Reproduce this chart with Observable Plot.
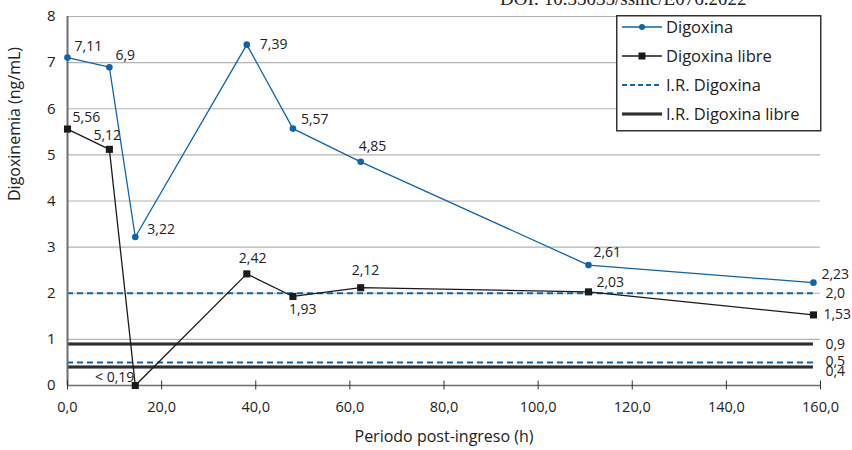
<!DOCTYPE html>
<html><head><meta charset="utf-8">
<script src="https://cdn.jsdelivr.net/npm/d3@7"></script>
<script src="https://cdn.jsdelivr.net/npm/@observablehq/plot@0.6"></script>
<style>
body{margin:0;background:#fff;font-family:"Open Sans",sans-serif}
#wrap{position:relative;width:852px;height:450px;overflow:hidden}
#doi{position:absolute;left:500px;top:-12px;white-space:nowrap;font-family:"Liberation Serif",serif;font-size:19px;color:#222}
#legend{position:absolute;left:616px;top:15px}
</style></head>
<body>
<div id="wrap"><div id="doi">DOI: 10.35035/ssmc/E076.2022</div><div id="chart"></div><div id="legend"></div></div>
<script>
// ---- data ----
const xHours = [0, 8.9, 14.4, 38.1, 47.9, 62.3, 110.7, 158.5];
const digoxina = [7.11, 6.9, 3.22, 7.39, 5.57, 4.85, 2.61, 2.23];
const digoxinaLabels = ["7,11", "6,9", "3,22", "7,39", "5,57", "4,85", "2,61", "2,23"];
const digoxinaLibre = [5.56, 5.12, 0, 2.42, 1.93, 2.12, 2.03, 1.53];
const libreLabels = ["5,56", "5,12", "< 0,19", "2,42", "1,93", "2,12", "2,03", "1,53"];
const refDigoxina = [2.0, 0.5];
const refDigoxinaLabels = ["2,0", "0,5"];
const refLibre = [0.9, 0.4];
const refLibreLabels = ["0,9", "0,4"];
const xTicks = [0, 20, 40, 60, 80, 100, 120, 140, 160];
const yTicks = [0, 1, 2, 3, 4, 5, 6, 7, 8];
const seriesNames = ["Digoxina", "Digoxina libre", "I.R. Digoxina", "I.R. Digoxina libre"];
const xTitle = "Periodo post-ingreso (h)";
const yTitle = "Digoxinemia (ng/mL)";

// ---- styles / label placement ----
const BLUE = "#0b64ad", BLACK = "#1a1a1a", GRID = "#b4b4b4", AXIS = "#6e6e6e";
const blueOff = [[7,-11,"start"],[6,-12,"start"],[12,-7,"start"],[13,0,"start"],[8,-9,"start"],[-2,-15,"start"],[5,-13,"start"],[8,-8,"start"]];
const blackOff = [[5,-12,"start"],[-16,-14,"start"],[-1,-8,"end"],[-8,-15,"start"],[-4,13,"start"],[-9,-17,"start"],[8,-9,"start"],[10,0,"start"]];
const refDigOff = [0, -1], refLibOff = [1, 4];

const pts = xHours.map((x, i) => ({x, dig: digoxina[i], lib: digoxinaLibre[i], dl: digoxinaLabels[i], ll: libreLabels[i]}));
const xEnd = xHours[xHours.length - 1], xStart = xHours[0];
const refD = refDigoxina.map((y, i) => ({y, t: refDigoxinaLabels[i], o: refDigOff[i]}));
const refL = refLibre.map((y, i) => ({y, t: refLibreLabels[i], o: refLibOff[i]}));
const fmt = d => d.toFixed(1).replace(".", ",");

const marks = [
  Plot.gridY(yTicks.slice(1), {stroke: GRID, strokeOpacity: 1, strokeWidth: 1.2}),
  Plot.ruleY(refL, {y: "y", x1: () => xStart, x2: () => xEnd, stroke: "#151515", strokeWidth: 3}),
  Plot.ruleY(refL, {y: "y", x1: () => xStart, x2: () => xEnd, stroke: "#707070", strokeWidth: 0.6}),
  Plot.ruleY(refD, {y: "y", x1: () => xStart, x2: () => xEnd, stroke: BLUE, strokeWidth: 2, strokeDasharray: "6,4"}),
  Plot.ruleX([xStart], {stroke: AXIS, strokeWidth: 2}),
  Plot.ruleY([0], {stroke: AXIS, strokeWidth: 1.5}),
  Plot.axisX(xTicks, {tickSize: 9, dy: -4.5, tickFormat: () => "", stroke: "#333", label: null}),
  Plot.line(pts, {x: "x", y: "dig", stroke: BLUE, strokeWidth: 1.3}),
  Plot.line(pts, {x: "x", y: "lib", stroke: BLACK, strokeWidth: 1.3}),
  Plot.dot(pts, {x: "x", y: "dig", r: 3.3, fill: BLUE}),
  Plot.dot(pts, {x: "x", y: "lib", symbol: "square", r: 4, fill: BLACK}),
  ...blueOff.map((o, i) => Plot.text([pts[i]], {x: "x", y: "dig", text: "dl", dx: o[0], dy: o[1], textAnchor: o[2], fontSize: 14, fill: "#222"})),
  ...blackOff.map((o, i) => Plot.text([pts[i]], {x: "x", y: "lib", text: "ll", dx: o[0], dy: o[1], textAnchor: o[2], fontSize: 14, fill: "#222"})),
  ...refD.map(r => Plot.text([r], {x: () => xEnd, y: "y", text: "t", dx: 12, dy: r.o, textAnchor: "start", fontSize: 14, fill: "#222"})),
  ...refL.map(r => Plot.text([r], {x: () => xEnd, y: "y", text: "t", dx: 12, dy: r.o, textAnchor: "start", fontSize: 14, fill: "#222"})),
  Plot.axisY(yTicks, {tickSize: 0, tickPadding: 12, fontSize: 15, label: null}),
  Plot.axisX(xTicks, {tickSize: 0, tickPadding: 16, fontSize: 14.5, tickFormat: fmt, label: null}),
  Plot.text([yTitle], {frameAnchor: "left", rotate: -90, dx: -53, fontSize: 16, fill: "#222"}),
  Plot.text([xTitle], {frameAnchor: "bottom", dy: 56, fontSize: 16, fill: "#222"})
];

const chart = Plot.plot({
  width: 852, height: 450,
  marginLeft: 67, marginRight: 32, marginTop: 16, marginBottom: 65,
  x: {domain: [0, 160]},
  y: {domain: [0, 8]},
  style: {fontFamily: "'Open Sans', sans-serif", fontSize: "15px", color: "#222", background: "transparent"},
  marks
});
document.getElementById("chart").appendChild(chart);

// ---- legend ----
const lg = d3.select("#legend").append("svg").attr("width", 206).attr("height", 117)
  .style("font-family", "'Open Sans', sans-serif");
lg.append("rect").attr("x", 0.75).attr("y", 0.75).attr("width", 204).attr("height", 115).attr("fill", "#fff").attr("stroke", "#333").attr("stroke-width", 1.5);
const rowY = [12, 41, 70, 99];
seriesNames.forEach((name, i) => {
  const g = lg.append("g").attr("transform", `translate(0,${rowY[i]})`);
  if (i === 0) {
    g.append("line").attr("x1", 6).attr("x2", 46).attr("stroke", BLUE).attr("stroke-width", 1.5);
    g.append("circle").attr("cx", 26).attr("r", 3).attr("fill", BLUE);
  } else if (i === 1) {
    g.append("line").attr("x1", 6).attr("x2", 46).attr("stroke", BLACK).attr("stroke-width", 1.5);
    g.append("rect").attr("x", 22.5).attr("y", -3.5).attr("width", 7).attr("height", 7).attr("fill", BLACK);
  } else if (i === 2) {
    g.append("line").attr("x1", 6).attr("x2", 46).attr("stroke", BLUE).attr("stroke-width", 2).attr("stroke-dasharray", "5,3");
  } else {
    g.append("line").attr("x1", 6).attr("x2", 46).attr("stroke", "#151515").attr("stroke-width", 3);
    g.append("line").attr("x1", 6).attr("x2", 46).attr("stroke", "#707070").attr("stroke-width", 0.6);
  }
  g.append("text").attr("x", 50).attr("y", 0).attr("dy", "0.35em").attr("font-size", 16.5).attr("fill", "#222").text(name);
});
</script>
</body></html>
